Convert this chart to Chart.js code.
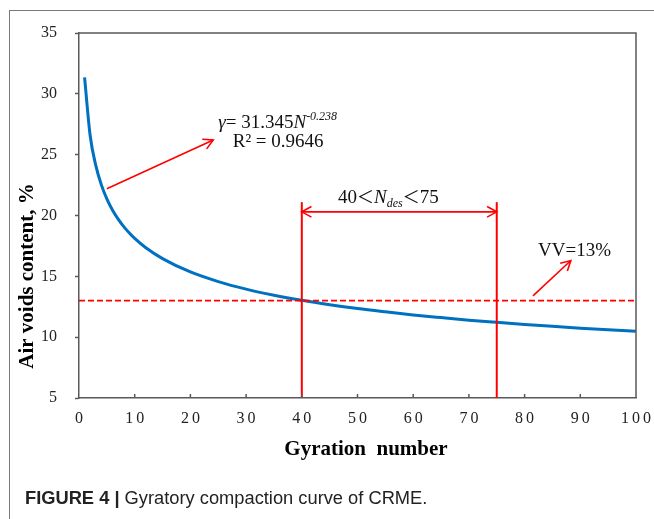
<!DOCTYPE html>
<html>
<head>
<meta charset="utf-8">
<script src="https://cdn.jsdelivr.net/npm/chart.js@4.4.0/dist/chart.umd.min.js"></script>
<style>
  html, body { margin: 0; padding: 0; background: #fff; }
  #wrap { position: relative; width: 654px; height: 519px; overflow: hidden; }
  #frame { position: absolute; left: 9px; top: 10px; width: 700px; height: 600px;
           border-left: 1.5px solid #7a7a7a; border-top: 1.5px solid #7a7a7a; }
  #chart { position: absolute; left: 0; top: 0; }
  #caption { position: absolute; left: 25px; top: 489px; font: 18.3px "Liberation Sans", Arial, sans-serif;
             color: #222; white-space: nowrap; line-height: 18px; }
</style>
</head>
<body>
<div id="wrap">
  <div id="frame"></div>
  <canvas id="chart" width="654" height="519"></canvas>
  <div id="caption"><b>FIGURE 4 |</b> Gyratory compaction curve of CRME.</div>
</div>
<script>
// gyratory compaction curve (air voids vs gyrations)
var gyrations = [1, 2, 3, 4, 5, 6, 7, 8, 9, 10, 12, 15, 20, 25, 30, 35, 40, 45, 50,
                 55, 60, 65, 70, 75, 80, 85, 90, 95, 100];
var airVoids = [31.35, 26.58, 24.14, 22.54, 21.37, 20.46, 19.73, 19.11, 18.58, 18.12,
                17.35, 16.46, 15.36, 14.57, 13.95, 13.45, 13.03, 12.67, 12.35, 12.08,
                11.83, 11.61, 11.40, 11.22, 11.05, 10.89, 10.74, 10.60, 10.48];

// design range and target voids
var vvTarget = 13;
var ndesRange = [40, 75];
var ndesTop = 21.1;      // top of the two range markers
var ndesArrowY = 20.3;   // level of the double arrow

var xTicks = [0, 10, 20, 30, 40, 50, 60, 70, 80, 90, 100];
var yTicks = [5, 10, 15, 20, 25, 30, 35];

var serif = '"Liberation Serif", "Times New Roman", serif';
var RED = '#ff0000';

var curve = [];
for (var i = 0; i < gyrations.length; i++) {
  curve.push({x: gyrations[i], y: airVoids[i]});
}

function arrowHead(ctx, x1, y1, x2, y2) {
  var a = Math.atan2(y2 - y1, x2 - x1);
  var len = 11, spread = 0.5;
  ctx.beginPath();
  ctx.moveTo(x2 - len * Math.cos(a - spread), y2 - len * Math.sin(a - spread));
  ctx.lineTo(x2, y2);
  ctx.lineTo(x2 - len * Math.cos(a + spread), y2 - len * Math.sin(a + spread));
  ctx.stroke();
}

// draws a line of text made of pieces with their own font / vertical shift
function drawRuns(ctx, x, y, runs) {
  ctx.textAlign = 'left';
  ctx.textBaseline = 'alphabetic';
  runs.forEach(function (r) {
    ctx.font = r.font;
    ctx.fillText(r.text, x, y + (r.dy || 0));
    x += ctx.measureText(r.text).width;
  });
}

var extras = {
  id: 'extras',
  afterDatasetsDraw: function (chart) {
    var ctx = chart.ctx, xs = chart.scales.x, ys = chart.scales.y, area = chart.chartArea;
    function P(x, y) { return [xs.getPixelForValue(x), ys.getPixelForValue(y)]; }
    ctx.save();

    // top and right edges of the plot box
    ctx.strokeStyle = '#595959';
    ctx.lineWidth = 1.5;
    ctx.beginPath();
    ctx.moveTo(area.left, area.top);
    ctx.lineTo(area.right, area.top);
    ctx.lineTo(area.right, area.bottom);
    ctx.stroke();

    // x ticks point inward
    ctx.beginPath();
    xTicks.slice(1, -1).forEach(function (v) {
      var p = xs.getPixelForValue(v);
      ctx.moveTo(p, area.bottom);
      ctx.lineTo(p, area.bottom - 4);
    });
    ctx.stroke();

    // x tick labels, spaced out a little
    ctx.fillStyle = '#222';
    ctx.font = '16px ' + serif;
    ctx.letterSpacing = '3px';
    ctx.textAlign = 'center';
    ctx.textBaseline = 'top';
    xTicks.forEach(function (v) {
      ctx.fillText(String(v), xs.getPixelForValue(v) + 1.5, area.bottom + 13);
    });
    ctx.letterSpacing = '0px';

    // x axis title
    ctx.fillStyle = '#000';
    ctx.font = 'bold 21px ' + serif;
    ctx.textBaseline = 'alphabetic';
    ctx.fillText('Gyration  number', 366, 455);

    // arrows
    ctx.strokeStyle = RED;
    ctx.lineWidth = 1.6;
    var a = P(ndesRange[0], ndesArrowY), b = P(ndesRange[1], ndesArrowY);
    arrowHead(ctx, b[0], b[1], a[0], a[1]);
    arrowHead(ctx, a[0], a[1], b[0], b[1]);

    [[5.0, 22.2, 24.1, 26.2], [81.5, 13.4, 88.3, 16.3]].forEach(function (s) {
      var t = P(s[0], s[1]), h = P(s[2], s[3]);
      ctx.beginPath();
      ctx.moveTo(t[0], t[1]);
      ctx.lineTo(h[0], h[1]);
      ctx.stroke();
      arrowHead(ctx, t[0], t[1], h[0], h[1]);
    });

    // labels
    ctx.fillStyle = '#111';
    var p = P(25.0, 27.2);
    drawRuns(ctx, p[0], p[1], [
      {text: 'γ', font: 'italic 19px ' + serif},
      {text: '= 31.345', font: '19px ' + serif},
      {text: 'N', font: 'italic 19px ' + serif},
      {text: '-0.238', font: 'italic 12px ' + serif, dy: -8}
    ]);
    p = P(27.6, 25.6);
    drawRuns(ctx, p[0], p[1], [{text: 'R² = 0.9646', font: '19px ' + serif}]);

    p = P(46.5, 21.05);
    var wide = '17px "Noto Sans CJK SC", sans-serif';
    drawRuns(ctx, p[0], p[1], [
      {text: '40', font: '19px ' + serif},
      {text: '＜', font: wide},
      {text: 'N', font: 'italic 19px ' + serif},
      {text: 'des', font: 'italic 12px ' + serif, dy: 4},
      {text: '＜', font: wide},
      {text: '75', font: '19px ' + serif}
    ]);

    p = P(82.4, 16.65);
    drawRuns(ctx, p[0], p[1], [{text: 'VV=13%', font: '19px ' + serif}]);

    // y axis title
    ctx.translate(28, 276);
    ctx.rotate(-Math.PI / 2);
    ctx.textAlign = 'center';
    ctx.textBaseline = 'middle';
    ctx.font = 'bold 21px ' + serif;
    ctx.fillStyle = '#000';
    ctx.fillText('Air voids content, %', 0, 0);

    ctx.restore();
  }
};

new Chart(document.getElementById('chart'), {
  type: 'line',
  data: {
    datasets: [
      {
        data: [{x: 0, y: vvTarget}, {x: 100, y: vvTarget}],
        borderColor: RED, borderWidth: 1.6, borderDash: [6, 3]
      },
      {
        data: [{x: ndesRange[0], y: 5}, {x: ndesRange[0], y: ndesTop}],
        borderColor: RED, borderWidth: 2
      },
      {
        data: [{x: ndesRange[1], y: 5}, {x: ndesRange[1], y: ndesTop}],
        borderColor: RED, borderWidth: 2
      },
      {
        data: [{x: ndesRange[0], y: ndesArrowY}, {x: ndesRange[1], y: ndesArrowY}],
        borderColor: RED, borderWidth: 1.6
      },
      {
        data: curve,
        borderColor: '#0070c0', borderWidth: 3,
        cubicInterpolationMode: 'monotone'
      }
    ]
  },
  options: {
    responsive: false,
    animation: false,
    layout: { padding: { top: 33, right: 18, left: 0, bottom: 0 } },
    elements: { point: { radius: 0 } },
    plugins: { legend: { display: false }, tooltip: { enabled: false } },
    scales: {
      x: {
        type: 'linear', min: 0, max: 100,
        afterFit: function (s) { s.height = 121; s.paddingLeft = 0; s.paddingRight = 0; },
        afterBuildTicks: function (s) { s.ticks = xTicks.map(function (v) { return {value: v}; }); },
        ticks: { display: false },
        grid: { drawOnChartArea: false, drawTicks: false },
        border: { color: '#595959', width: 1.5 }
      },
      y: {
        min: 5, max: 35,
        afterFit: function (s) { s.width = 79; },
        afterBuildTicks: function (s) { s.ticks = yTicks.map(function (v) { return {value: v}; }); },
        ticks: { color: '#222', padding: 18, font: { family: serif, size: 16 } },
        grid: { drawOnChartArea: false, tickLength: 4, tickColor: '#595959', tickWidth: 1.5 },
        border: { color: '#595959', width: 1.5 }
      }
    }
  },
  plugins: [extras]
});
</script>
</body>
</html>
